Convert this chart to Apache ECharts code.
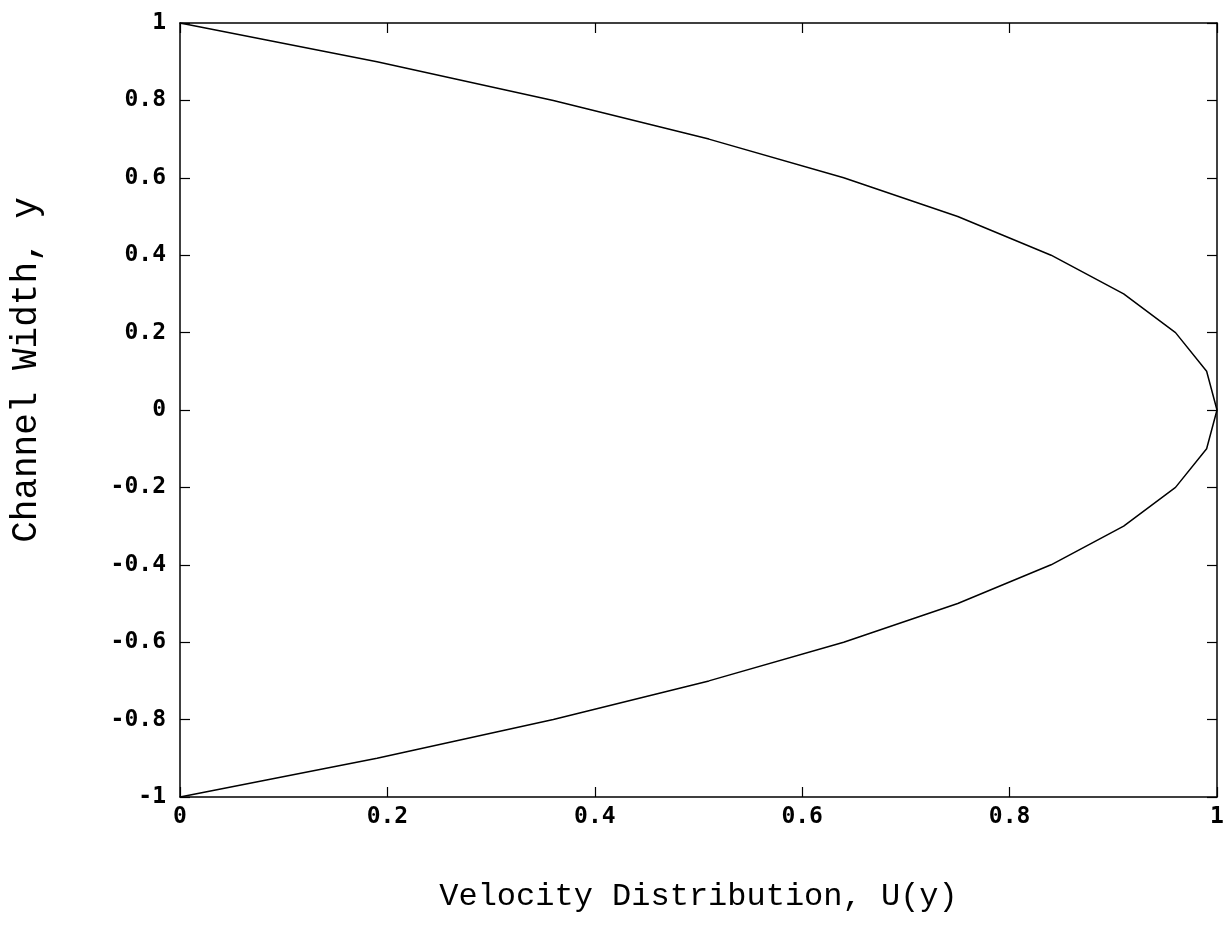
<!DOCTYPE html>
<html>
<head>
<meta charset="utf-8">
<script src="https://cdn.jsdelivr.net/npm/echarts@6/dist/echarts.min.js"></script>
<style>
  html, body { margin: 0; padding: 0; background: #fff; }
  #chart { width: 1228px; height: 925px; }
</style>
</head>
<body>
<div id="chart"></div>
<script>
// Channel width positions (y) and velocity (U)
const channelY = [-1.0, -0.9, -0.8, -0.7, -0.6, -0.5, -0.4, -0.3, -0.2, -0.1, 0.0,
                  0.1, 0.2, 0.3, 0.4, 0.5, 0.6, 0.7, 0.8, 0.9, 1.0];
const velocityU = [0.0, 0.19, 0.36, 0.51, 0.64, 0.75, 0.84, 0.91, 0.96, 0.99, 1.0,
                   0.99, 0.96, 0.91, 0.84, 0.75, 0.64, 0.51, 0.36, 0.19, 0.0];
const xTitle = 'Velocity Distribution, U(y)';
const yTitle = 'Channel Width, y';

const points = channelY.map((y, i) => [velocityU[i], y]);

const tickFont = {
  fontFamily: 'DejaVu Sans Mono',
  fontWeight: 'bold',
  fontSize: 23,
  color: '#000'
};
const axisLine = { show: true, onZero: false, lineStyle: { color: '#000', width: 1.5 } };
const axisTick = { show: true, inside: true, length: 10, lineStyle: { color: '#000', width: 1.2 } };

const chart = echarts.init(document.getElementById('chart'));
chart.setOption({
  backgroundColor: '#fff',
  animation: false,
  grid: { left: 178, right: 11, top: 23, bottom: 128 },
  xAxis: [
    {
      type: 'value', position: 'bottom', min: 0, max: 1, interval: 0.2,
      axisLine, axisTick, splitLine: { show: false },
      axisLabel: Object.assign({ margin: 9 }, tickFont),
      name: xTitle, nameLocation: 'middle', nameGap: 84,
      nameTextStyle: { fontFamily: 'Liberation Mono', fontSize: 32, color: '#000' }
    },
    {
      type: 'value', position: 'top', min: 0, max: 1, interval: 0.2,
      axisLine, axisTick, splitLine: { show: false },
      axisLabel: { show: false }
    }
  ],
  yAxis: [
    {
      type: 'value', position: 'left', min: -1, max: 1, interval: 0.2,
      axisLine, axisTick, splitLine: { show: false },
      axisLabel: Object.assign({ margin: 14 }, tickFont),
      name: yTitle, nameLocation: 'middle', nameGap: 136,
      nameTextStyle: { fontFamily: 'Liberation Mono', fontSize: 36, color: '#000', padding: [0, 0, 0, 80] }
    },
    {
      type: 'value', position: 'right', min: -1, max: 1, interval: 0.2,
      axisLine, axisTick, splitLine: { show: false },
      axisLabel: { show: false }
    }
  ],
  series: [{
    type: 'line',
    data: points,
    showSymbol: false,
    smooth: false,
    lineStyle: { color: '#000', width: 1.5 },
    xAxisIndex: 0, yAxisIndex: 0
  }]
});
</script>
</body>
</html>
